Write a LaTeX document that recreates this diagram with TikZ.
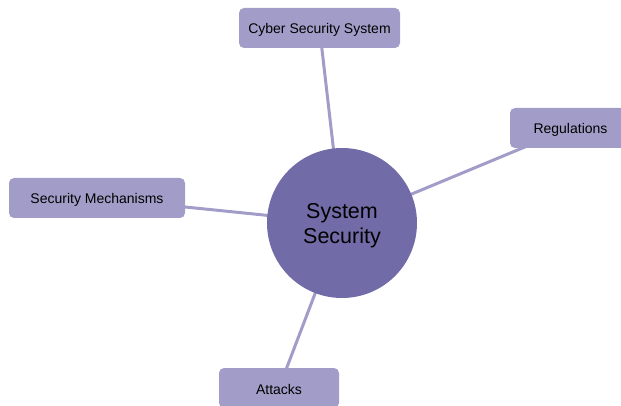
\documentclass[tikz,border=0pt]{standalone}
\usepackage{fontspec}
\setmainfont{Liberation Sans}
\usetikzlibrary{backgrounds}
\definecolor{leaf}{HTML}{A29DC8}
\definecolor{hub}{HTML}{716CA8}
\tikzset{
  leafbox/.style={fill=leaf, rounded corners=5pt, inner sep=0pt,
    minimum height=40pt, text height=12pt, text depth=0pt,
    font=\fontsize{14pt}{16pt}\selectfont, text=black},
  hubnode/.style={circle, fill=hub, inner sep=0pt, minimum size=150pt},
  hubtext/.style={align=center, inner sep=0pt, text=black,
    font=\fontsize{21.5pt}{25.5pt}\selectfont},
  spoke/.style={draw=leaf, line width=3pt}
}
\begin{document}
\begin{tikzpicture}[x=1pt, y=-1pt]
  \useasboundingbox (0,0) rectangle (621,406);
  \begin{scope}
    \clip (0,0) rectangle (621,406);
    \node[hubnode] (hub) at (342,223) {};
    \node[hubtext, yshift=-2.5pt] (hublabel) at (hub.center) {System\\Security};
    \node[leafbox, minimum width=161pt] (cyber) at (319.5,28) {Cyber Security System};
    \node[leafbox, minimum width=121pt] (reg) at (570.5,128) {Regulations};
    \node[leafbox, minimum width=176pt] (mech) at (97,198) {Security Mechanisms};
    \node[leafbox, minimum width=120pt] (att) at (279,388) {Attacks};
    \begin{pgfonlayer}{background}
      \draw[spoke] (hub.center) -- (cyber.center);
      \draw[spoke] (hub.center) -- (reg.center);
      \draw[spoke] (hub.center) -- (mech.center);
      \draw[spoke] (hub.center) -- (att.center);
    \end{pgfonlayer}
  \end{scope}
\end{tikzpicture}
\end{document}
